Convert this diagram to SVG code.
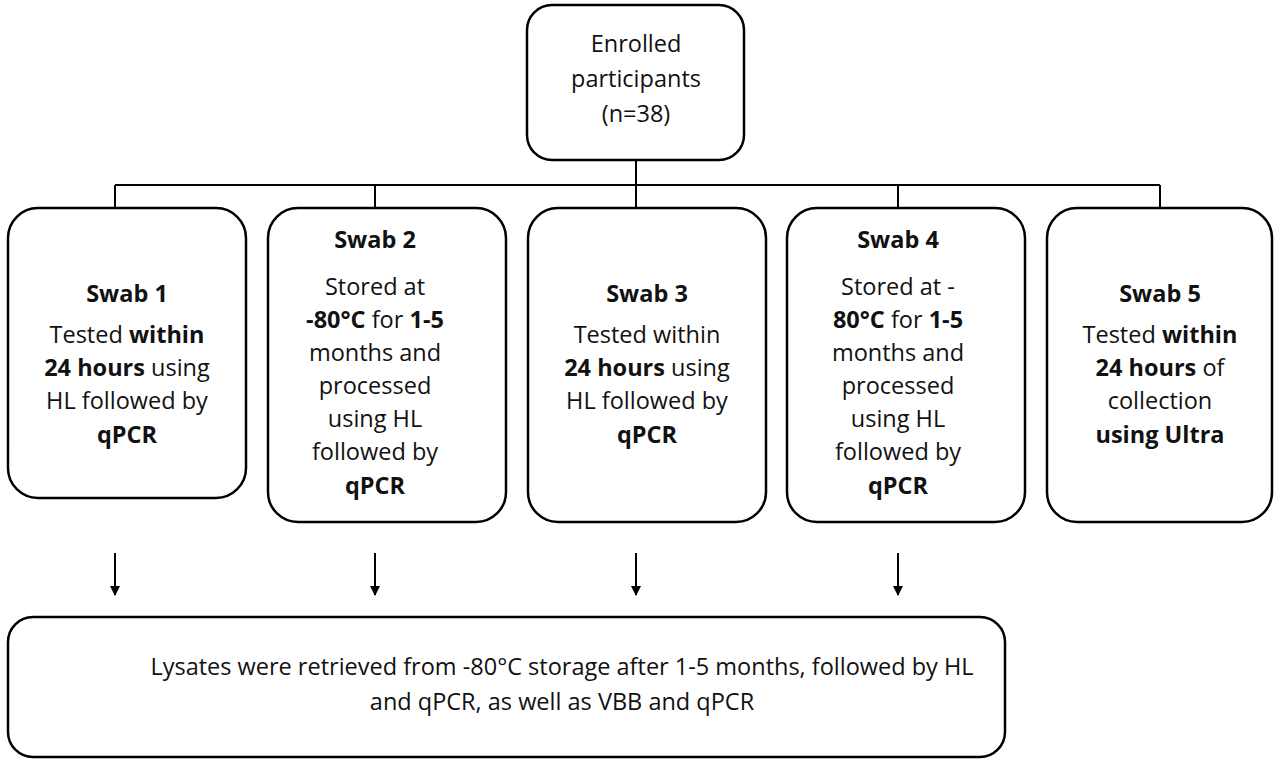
<svg xmlns="http://www.w3.org/2000/svg" width="1280" height="766" viewBox="0 0 1280 766">
<defs>
<style>
rect{fill:#fff;stroke:#000;stroke-width:2.5}
text{font-family:"Open Sans","Liberation Sans",sans-serif;font-size:23.5px;text-anchor:middle;fill:#111}
.b{font-weight:bold}
line{stroke:#000;stroke-width:2}
</style>
<marker id="ah" viewBox="0 0 10 10" refX="9" refY="5" markerWidth="5" markerHeight="5" orient="auto"><path d="M0,0L10,5L0,10z" fill="#000"/></marker>
</defs>
<rect x="0" y="0" width="1280" height="766" style="stroke:none"/>
<g id="connectors">
<line x1="636" y1="160" x2="636" y2="185"/>
<line x1="115" y1="185" x2="1160" y2="185"/>
<line x1="115" y1="185" x2="115" y2="208"/>
<line x1="375" y1="185" x2="375" y2="208"/>
<line x1="636" y1="185" x2="636" y2="208"/>
<line x1="898" y1="185" x2="898" y2="208"/>
<line x1="1160" y1="185" x2="1160" y2="208"/>
<line x1="115" y1="553" x2="115" y2="595" marker-end="url(#ah)"/>
<line x1="375" y1="553" x2="375" y2="595" marker-end="url(#ah)"/>
<line x1="636" y1="553" x2="636" y2="595" marker-end="url(#ah)"/>
<line x1="898" y1="553" x2="898" y2="595" marker-end="url(#ah)"/>
</g>
<g id="enrolled"><rect x="527" y="5" width="217" height="155" rx="25"/>
<text x="636" y="52">Enrolled</text><text x="636" y="87">participants</text><text x="636" y="122">(n=38)</text></g>
<g id="swab1"><rect x="8" y="208" width="238" height="290" rx="30"/>
<text x="127" y="302" class="b">Swab 1</text>
<text x="127" y="343">Tested <tspan class="b">within</tspan></text>
<text x="127" y="376"><tspan class="b">24 hours</tspan> using</text>
<text x="127" y="409">HL followed by</text>
<text x="127" y="443" class="b">qPCR</text></g>
<g id="swab2"><rect x="268" y="208" width="238" height="314" rx="30"/>
<text x="375" y="248" class="b">Swab 2</text>
<text x="375" y="295">Stored at</text>
<text x="375" y="328"><tspan class="b">-80°C</tspan> for <tspan class="b">1-5</tspan></text>
<text x="375" y="361">months and</text>
<text x="375" y="394">processed</text>
<text x="375" y="427">using HL</text>
<text x="375" y="460">followed by</text>
<text x="375" y="494" class="b">qPCR</text></g>
<g id="swab3"><rect x="528" y="208" width="238" height="314" rx="30"/>
<text x="647" y="302" class="b">Swab 3</text>
<text x="647" y="343">Tested within</text>
<text x="647" y="376"><tspan class="b">24 hours</tspan> using</text>
<text x="647" y="409">HL followed by</text>
<text x="647" y="443" class="b">qPCR</text></g>
<g id="swab4"><rect x="787" y="208" width="238" height="314" rx="30"/>
<text x="898" y="248" class="b">Swab 4</text>
<text x="898" y="295">Stored at -</text>
<text x="898" y="328"><tspan class="b">80°C</tspan> for <tspan class="b">1-5</tspan></text>
<text x="898" y="361">months and</text>
<text x="898" y="394">processed</text>
<text x="898" y="427">using HL</text>
<text x="898" y="460">followed by</text>
<text x="898" y="494" class="b">qPCR</text></g>
<g id="swab5"><rect x="1047" y="208" width="225" height="314" rx="30"/>
<text x="1160" y="302" class="b">Swab 5</text>
<text x="1160" y="343">Tested <tspan class="b">within</tspan></text>
<text x="1160" y="376"><tspan class="b">24 hours</tspan> of</text>
<text x="1160" y="409">collection</text>
<text x="1160" y="443" class="b">using Ultra</text></g>
<g id="lysates"><rect x="8" y="617" width="997" height="140" rx="25"/>
<text x="562" y="675">Lysates were retrieved from -80°C storage after 1-5 months, followed by HL</text>
<text x="562" y="710">and qPCR, as well as VBB and qPCR</text></g>
</svg>
